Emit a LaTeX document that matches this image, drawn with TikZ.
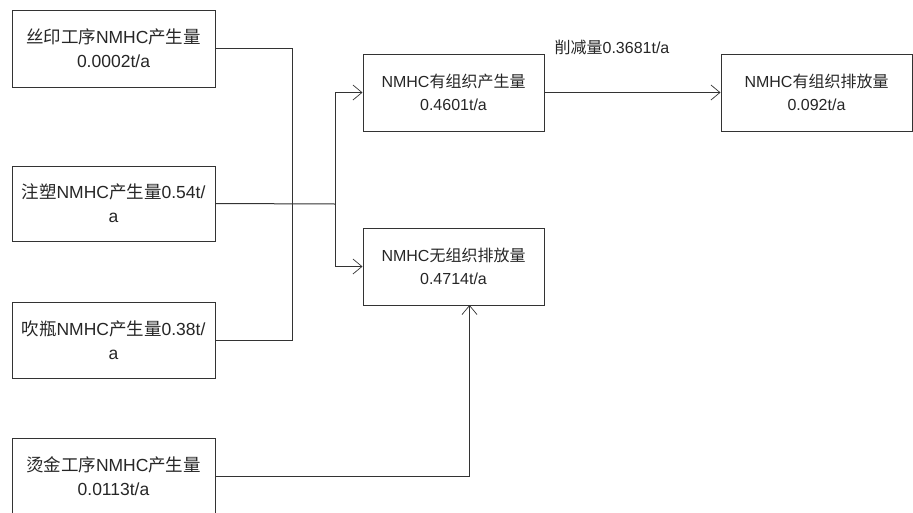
\documentclass[tikz,border=0pt]{standalone}
\usepackage{fontspec}
\setmainfont{Liberation Sans}
\newfontfamily\cjkfont{Noto Sans CJK SC}
\newcommand\zh[1]{{\cjkfont #1}}
\usetikzlibrary{arrows.meta}
\definecolor{ln}{HTML}{333333}
\definecolor{tx}{HTML}{262626}
\begin{document}
\begin{tikzpicture}[x=1pt,y=-1pt,
  box/.style={draw=ln,line width=1pt,rectangle,inner sep=0pt,align=center,text=tx,
    font=\fontsize{16}{23.5}\selectfont},
  lbox/.style={box,minimum width=203pt,font=\fontsize{17.5}{24}\selectfont},
  conn/.style={draw=ln,line width=1pt},
  arr/.style={conn,-{Straight Barb[length=9pt,width=15pt,line width=0.7pt]}},
  lab/.style={text=tx,font=\fontsize{16}{20}\selectfont,inner sep=0pt}]
\useasboundingbox (0,0) rectangle (913,512);
\node[lbox,minimum height=77pt] (b1) at (113.5,48.5) {\zh{丝印工序}NMHC\zh{产生量}\\0.0002t/a};
\node[lbox,minimum height=75pt] (b2) at (113.5,203.5) {\zh{注塑}NMHC\zh{产生量}0.54t/\\a};
\node[lbox,minimum height=76pt] (b3) at (113.5,340) {\zh{吹瓶}NMHC\zh{产生量}0.38t/\\a};
\node[lbox,minimum height=77pt] (b4) at (113.5,476.5) {\zh{烫金工序}NMHC\zh{产生量}\\0.0113t/a};
\node[box,minimum width=181pt,minimum height=77pt] (b5) at (453.5,92.5) {NMHC\zh{有组织产生量}\\0.4601t/a};
\node[box,minimum width=181pt,minimum height=77pt] (b6) at (453.5,266.5) {NMHC\zh{无组织排放量}\\0.4714t/a};
\node[box,minimum width=191pt,minimum height=77pt] (b7) at (816.5,92.5) {NMHC\zh{有组织排放量}\\0.092t/a};
\node[lab] (cut) at (612,47) {\zh{削减量}0.3681t/a};
\coordinate (v1) at (292.5,204);
\coordinate (v2) at (335.5,204);
\coordinate (b6in) at (469.5,305);
\draw[conn] (b1.east) -| (v1) |- (b3.east);
\draw[conn] (b2.east) -- (v2);
\draw[arr] (v2) |- (b5.west);
\draw[arr] (v2) |- (b6.west);
\draw[arr] (b5.east) -- (b7.west);
\draw[arr] (b4.east) -| (b6in);
\end{tikzpicture}
\end{document}
